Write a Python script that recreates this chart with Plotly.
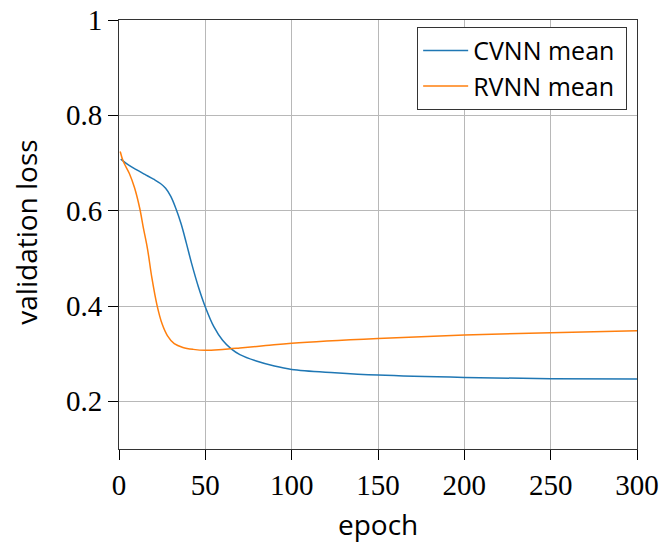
import plotly.graph_objects as go

# CVNN mean validation loss
cvnn_epoch = [1, 5, 10, 15, 20, 24, 27, 30, 33, 36, 39, 42, 46, 50, 55, 60, 65, 70, 80, 90, 100, 125, 150, 200, 250, 300]
cvnn_loss = [0.708, 0.697, 0.686, 0.676, 0.666, 0.657, 0.647, 0.630, 0.604, 0.572, 0.532, 0.490, 0.440, 0.398, 0.356, 0.328, 0.310, 0.298, 0.284, 0.274, 0.267, 0.260, 0.255, 0.250, 0.2475, 0.247]

# RVNN mean validation loss
rvnn_epoch = [0.7, 2.5, 6, 9, 12, 14, 16.5, 19, 22, 25, 28, 32, 37, 43, 50, 60, 70, 85, 100, 150, 200, 250, 300]
rvnn_loss = [0.724, 0.703, 0.678, 0.648, 0.605, 0.566, 0.520, 0.460, 0.402, 0.362, 0.338, 0.321, 0.313, 0.309, 0.307, 0.309, 0.312, 0.317, 0.322, 0.332, 0.339, 0.344, 0.348]

series_names = ["CVNN mean", "RVNN mean"]
x_ticks = [0, 50, 100, 150, 200, 250, 300]
y_ticks = [0.2, 0.4, 0.6, 0.8, 1.0]
y_tick_text = ["0.2", "0.4", "0.6", "0.8", "1"]

fig = go.Figure()
fig.add_trace(go.Scatter(x=cvnn_epoch, y=cvnn_loss, mode="lines", name=series_names[0] + "\u00a0",
                         line=dict(color="#1f77b4", width=1.5, shape="spline", smoothing=1.0)))
fig.add_trace(go.Scatter(x=rvnn_epoch, y=rvnn_loss, mode="lines", name=series_names[1] + "\u00a0",
                         line=dict(color="#ff7f0e", width=1.5, shape="spline", smoothing=1.0)))

serif = dict(family="Liberation Serif", size=29, color="black")
sans = "Open Sans"

fig.update_layout(
    width=662, height=542,
    margin=dict(l=119, r=25, t=20, b=93, autoexpand=False),
    paper_bgcolor="white", plot_bgcolor="white",
    font=dict(family=sans, color="black"),
    showlegend=True,
    legend=dict(x=0.981, y=0.984, xanchor="right", yanchor="top",
                bordercolor="#333333", borderwidth=1, bgcolor="white",
                font=dict(family=sans, size=25, color="black"),
                itemwidth=45, tracegroupgap=0),
    xaxis=dict(range=[0, 300], tickvals=x_ticks, ticks="outside", ticklen=10,
               tickcolor="black", tickwidth=1, tickfont=serif, automargin=False,
               showline=True, linecolor="#333333", linewidth=1, mirror=True,
               showgrid=True, gridcolor="#b8b8b8", gridwidth=1, zeroline=False),
    yaxis=dict(range=[0.1, 1.0], tickvals=y_ticks, ticktext=y_tick_text, ticks="outside", ticklen=10,
               tickcolor="black", tickwidth=1, tickfont=serif, automargin=False,
               showline=True, linecolor="#333333", linewidth=1, mirror=True,
               showgrid=True, gridcolor="#b8b8b8", gridwidth=1, zeroline=False),
    annotations=[
        dict(text="epoch", xref="paper", yref="paper", x=0.5, y=-0.175,
             xanchor="center", yanchor="middle", showarrow=False,
             font=dict(family=sans, size=28, color="black")),
        dict(text="validation loss", xref="paper", yref="paper", x=-0.18, y=0.506,
             xanchor="center", yanchor="middle", textangle=-90, showarrow=False,
             font=dict(family=sans, size=28, color="black")),
    ],
)

fig.write_html("out.html", config={"displayModeBar": False},
               post_script="document.body.style.margin='0';")
